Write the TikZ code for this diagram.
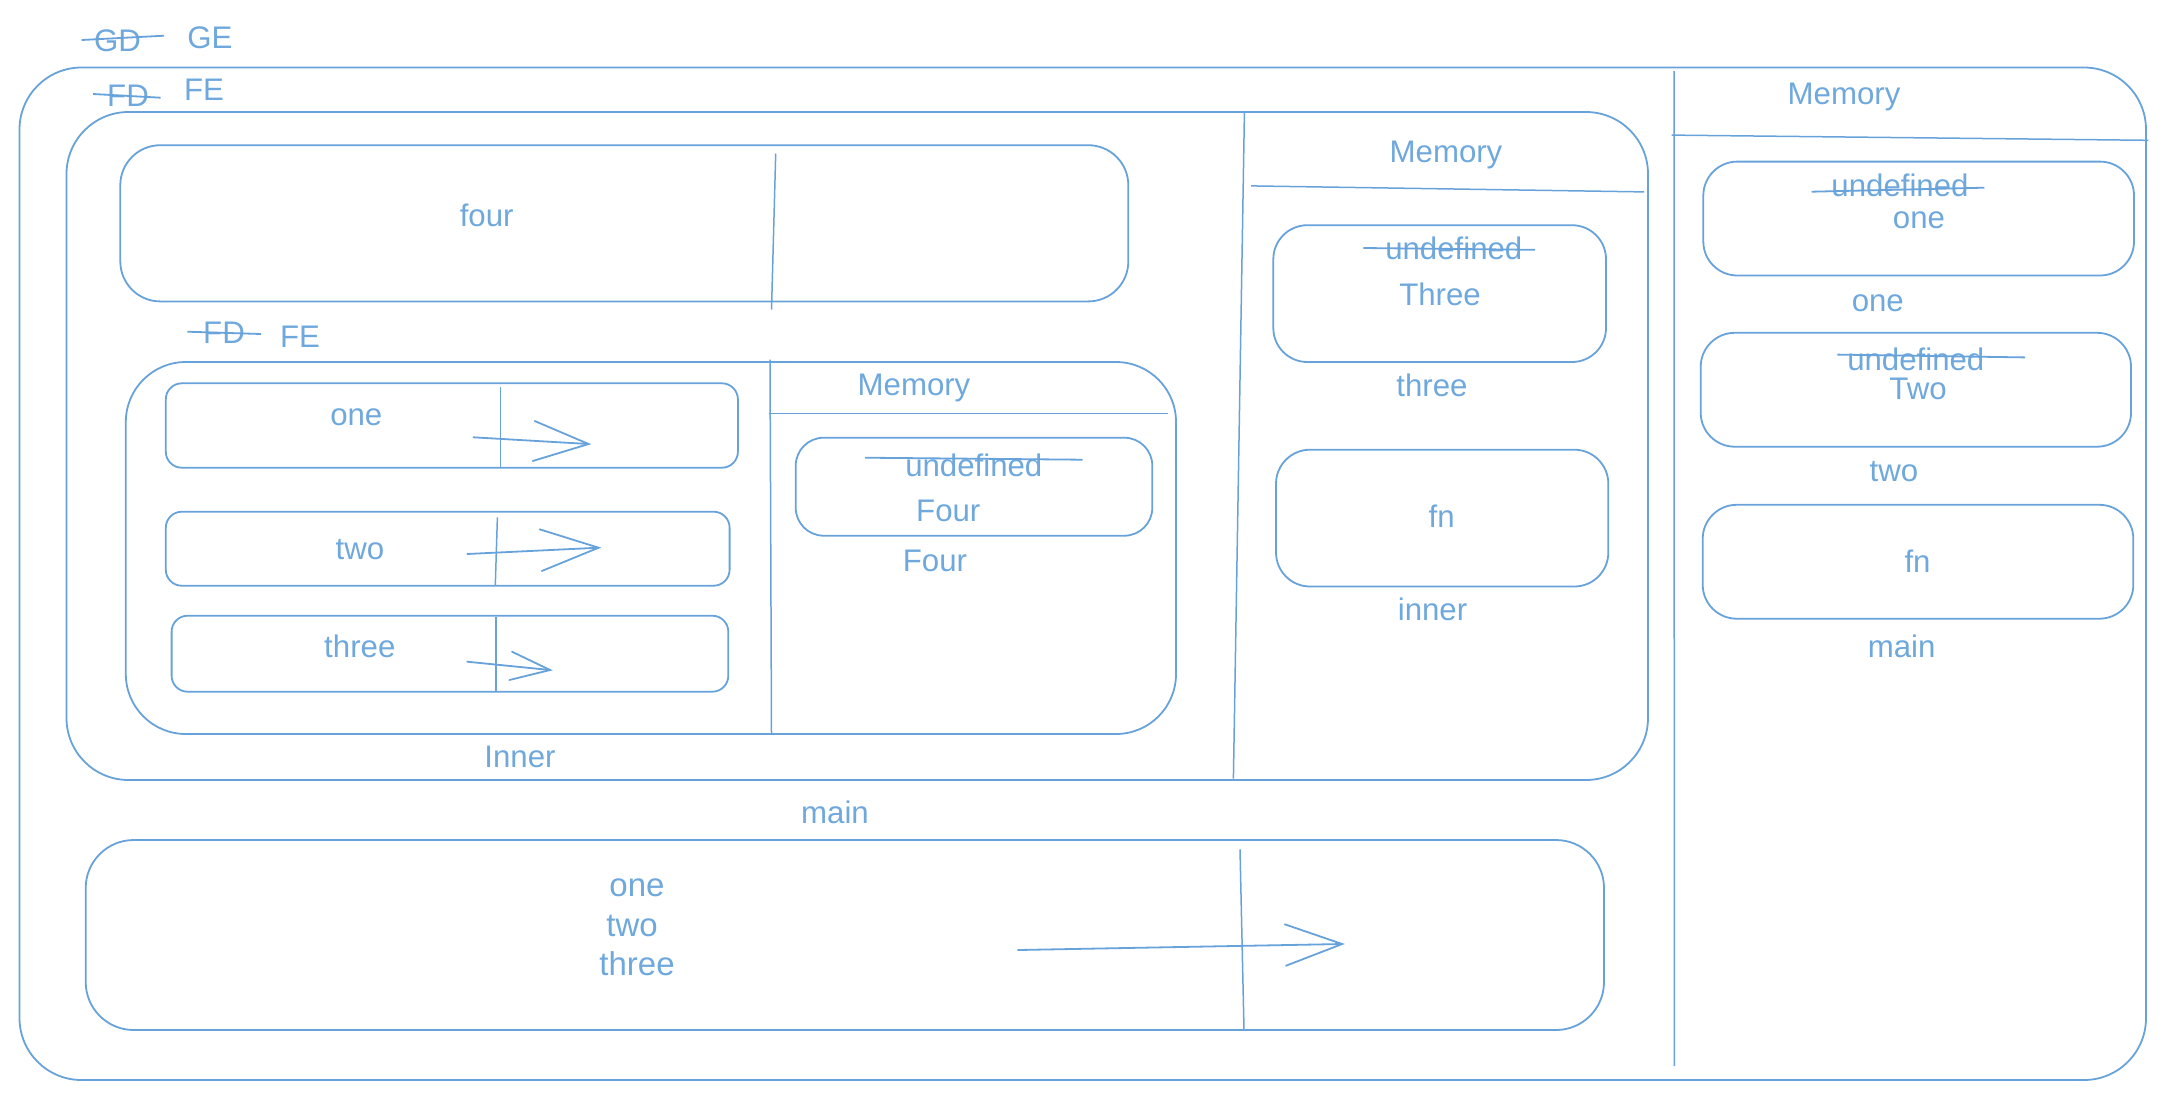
\documentclass[tikz,border=0pt]{standalone}
\usepackage{fontspec}
\setmainfont{Liberation Sans}
\usetikzlibrary{fit}
\definecolor{linec}{RGB}{104,162,218}
\definecolor{textc}{RGB}{111,168,220}
\tikzset{
  box/.style={draw=linec, line width=0.9pt, inner sep=0pt, fit={#1}},
  thin/.style={draw=linec, line width=0.75pt},
  strike/.style={draw=linec, line width=0.9pt},
  lbl/.style={text=textc, anchor=base, inner sep=0pt, font=\fontsize{15.6}{18}\selectfont},
  big/.style={text=textc, anchor=base, inner sep=0pt, font=\fontsize{16.5}{19}\selectfont},
  barb/.style={draw=linec, line width=0.9pt, line cap=round}
}
\begin{document}
\begin{tikzpicture}[x=0.5pt, y=-0.5pt]
\useasboundingbox (0,0) rectangle (2168,1099);

% ---------- boxes ----------
\node[box={(19.5,67.5) (2146,1080)}, rounded corners=31pt] (ge) {};
\node[box={(66.5,112) (1648,780)}, rounded corners=31pt] (fe) {};
\node[box={(120.3,145.2) (1128.3,301.4)}, rounded corners=20pt] (fourbox) {};
\node[box={(125.8,362) (1176,734)}, rounded corners=30pt] (innerbox) {};
\node[box={(165.8,383.3) (737.9,467.7)}, rounded corners=8pt] (onebox) {};
\node[box={(165.8,511.7) (729.6,585.7)}, rounded corners=8pt] (twobox) {};
\node[box={(171.6,615.7) (728.3,691.7)}, rounded corners=8pt] (threebox) {};
\node[box={(795.7,437.7) (1152.3,535.7)}, rounded corners=14pt] (memfour) {};
\node[box={(1273.3,225.2) (1606,362)}, rounded corners=17pt] (memthree) {};
\node[box={(1276,449.7) (1608.3,586.5)}, rounded corners=17pt] (meminner) {};
\node[box={(1703.3,161.6) (2134,275.5)}, rounded corners=17pt] (memone) {};
\node[box={(1700.7,332.8) (2131,446.7)}, rounded corners=17pt] (memtwo) {};
\node[box={(1702.7,504.8) (2133.3,618.7)}, rounded corners=17pt] (memmain) {};
\node[box={(85.7,840) (1604,1030)}, rounded corners=24pt] (mainbox) {};

% ---------- divider lines ----------
\draw[thin] (1244.4,113) -- (1233.4,778.5);
\draw[thin] (1251,185.9) -- (1644,191.9);
\draw[thin] (1674,71) -- (1674.4,1066);
\draw[thin] (1671.7,135.1) -- (2148.3,140.3);
\draw[thin] (775.7,153.5) -- (771.5,309.7);
\draw[thin] (770,359.5) -- (771.5,734);
\draw[thin] (769.3,413.3) -- (1168.3,413.3);
\draw[thin] (500.3,387.3) -- (500.3,468.3);
\draw[thin] (497.4,517.3) -- (495.3,585);
\draw[thin] (495.8,616.7) -- (495.8,690.7);
\draw[thin] (1240,849.3) -- (1244,1030);

% ---------- labels ----------
\node[lbl] (gd) at (117.5,51.5) {GD};
\node[lbl] (gel) at (210,48.3) {GE};
\node[lbl] (fd1) at (128,106.7) {FD};
\node[lbl] (fe1) at (204,100) {FE};
\node[lbl] (fd2) at (224,343.3) {FD};
\node[lbl] (fe2) at (300,347.7) {FE};
\node[lbl] (four) at (486.7,226) {four};
\node[lbl] (one1) at (356.3,425) {one};
\node[lbl] (two1) at (360,559.3) {two};
\node[lbl] (three1) at (359.8,657.3) {three};
\node[lbl] (inner) at (520,767) {Inner};
\node[lbl] (main) at (835,823) {main};
\node[big] (m1) at (637,896) {one};
\node[big] (m2) at (632,936.7) {two};
\node[big] (m3) at (637,975) {three};

\node[lbl] (memA) at (914,395) {Memory};
\node[lbl] (undA) at (973.8,476) {undefined};
\node[lbl] (FourA) at (948.3,521.7) {Four};
\node[lbl] (FourB) at (935,571) {Four};

\node[lbl] (memB) at (1446,162.4) {Memory};
\node[lbl] (undB) at (1453.8,259.6) {undefined};
\node[lbl] (ThreeB) at (1440,305.2) {Three};
\node[lbl] (threeB) at (1432,396.4) {three};
\node[lbl] (fnB) at (1441.7,527.9) {fn};
\node[lbl] (innerB) at (1432.5,620.9) {inner};

\node[lbl] (memC) at (1844,104.3) {Memory};
\node[lbl] (undC) at (1900,196.4) {undefined};
\node[lbl] (oneC) at (1919,228) {one};
\node[lbl] (oneL) at (1877.8,311.1) {one};
\node[lbl] (undD) at (1915.8,370.4) {undefined};
\node[lbl] (TwoD) at (1918,399.3) {Two};
\node[lbl] (twoL) at (1894,481.1) {two};
\node[lbl] (fnC) at (1917.5,572.1) {fn};
\node[lbl] (mainL) at (1901.7,657.1) {main};

% ---------- strike-throughs ----------
\draw[strike] (81.7,40) -- (164,35.7);
\draw[strike] (93,94) -- (160.7,97.7);
\draw[strike] (187.3,331.7) -- (261.1,334);
\draw[strike] (865,457.7) -- (1082.7,459.7);
\draw[strike] (1363.3,248) -- (1535,249.8);
\draw[strike] (1811.7,191.7) -- (1984.3,187.7);
\draw[strike] (1837.3,354.6) -- (2025,357.4);

% ---------- arrows ----------
\coordinate (a1s) at (473.4,437.3); \coordinate (a1t) at (588.6,444);
\coordinate (a2s) at (467.2,554);   \coordinate (a2t) at (598.6,547.7);
\coordinate (a3s) at (467.2,661.7); \coordinate (a3t) at (550.1,670);
\coordinate (a4s) at (1017.9,950);  \coordinate (a4t) at (1342.2,944);
\draw[barb] (a1s) -- (a1t);
\draw[barb] (534.7,421) -- (a1t) -- (532.7,461);
\draw[barb] (a2s) -- (a2t);
\draw[barb] (539.7,529.3) -- (a2t) -- (541.8,571);
\draw[barb] (a3s) -- (a3t);
\draw[barb] (512,651.7) -- (a3t) -- (509.4,680);
\draw[barb] (a4s) -- (a4t);
\draw[barb] (1284.8,924.3) -- (a4t) -- (1286,965.7);
\end{tikzpicture}
\end{document}
